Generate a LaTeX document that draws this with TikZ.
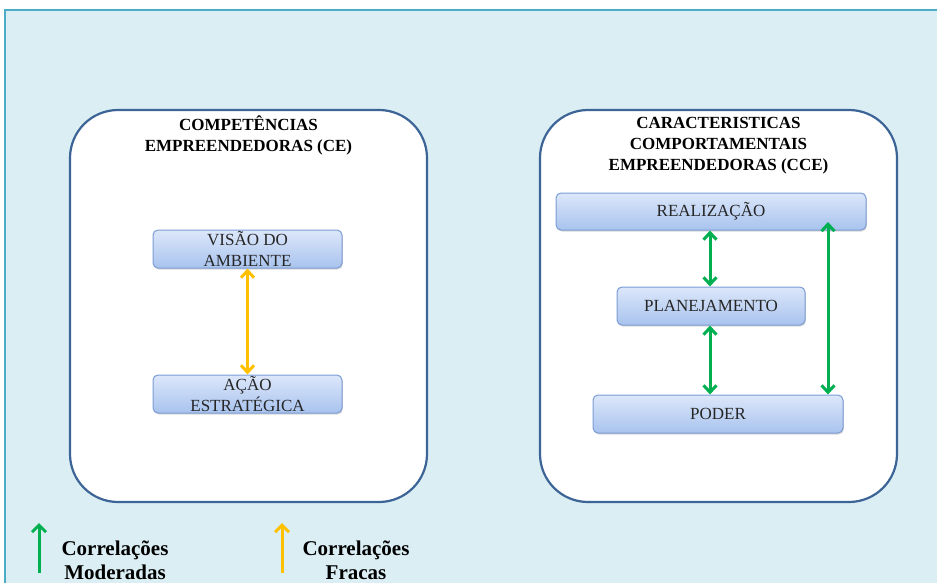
\documentclass[tikz,border=0pt]{standalone}
\usepackage{fontspec}
\setmainfont{Liberation Serif}
\usetikzlibrary{arrows.meta,shadows}
\definecolor{panelfill}{HTML}{DAEEF3}
\definecolor{panelline}{HTML}{4BACC6}
\definecolor{boxline}{HTML}{3D6496}
\definecolor{nodetop}{HTML}{DCE7FA}
\definecolor{nodebot}{HTML}{A8C3EE}
\definecolor{nodeline}{HTML}{7C9CD4}
\definecolor{corgreen}{HTML}{00B050}
\definecolor{corgold}{HTML}{FFC000}
\tikzset{
  group/.style={draw=boxline, line width=2.2pt, fill=white, rounded corners=48pt},
  item/.style={draw=nodeline, line width=1pt, rounded corners=5pt, top color=nodetop,
    bottom color=nodebot, align=center, inner sep=0pt,
    font=\fontsize{17}{20.5}\selectfont, text=black!85,
    drop shadow={shadow xshift=0.8pt, shadow yshift=-1.5pt, opacity=0.3}},
  grouptitle/.style={align=center, font=\bfseries\fontsize{17}{21}\selectfont, inner sep=0pt},
  link/.style={line width=3pt, {Straight Barb[length=7pt,width=13pt]}-{Straight Barb[length=7pt,width=13pt]}},
  legarrow/.style={line width=3pt, -{Straight Barb[length=7pt,width=14pt]}},
  legtext/.style={align=center, font=\bfseries\fontsize{21}{24}\selectfont, inner sep=0pt}
}
\begin{document}
\begin{tikzpicture}[x=1pt,y=-1pt]
\useasboundingbox (0,0) rectangle (937,583);
% background panel
\fill[panelfill] (5,10) rectangle (945,590);
\draw[panelline, line width=1.3pt] (945,10) -- (5,10) -- (5,590);

% group frames
\draw[group] (70,110) rectangle (427,502);
\draw[group] (540,110) rectangle (897,502);

\node[grouptitle] (t1) at (248.5,135.5) {COMPETÊNCIAS\\EMPREENDEDORAS (CE)};
\node[grouptitle] (t2) at (718.5,146) {CARACTERISTICAS\\COMPORTAMENTAIS\\EMPREENDEDORAS (CCE)};

% left group
\node[item, minimum width=189pt, minimum height=38pt] (vis) at (247.5,249) {VISÃO DO\\AMBIENTE};
\node[item, minimum width=189pt, minimum height=38pt] (acao) at (247.5,394) {AÇÃO\\ESTRATÉGICA};
\draw[link, corgold] (vis.south) -- (acao.north);

% right group
\node[item, minimum width=310pt, minimum height=37pt] (real) at (711,211.5) {REALIZAÇÃO};
\node[item, minimum width=188pt, minimum height=38pt] (plan) at (711,306) {PLANEJAMENTO};
\node[item, minimum width=250pt, minimum height=38pt] (pod) at (718,414) {PODER};
\draw[link, corgreen] (real.south -| 710,0) -- (plan.north -| 710,0);
\draw[link, corgreen] (plan.south -| 710,0) -- (pod.north -| 710,0);
\coordinate (rtop) at (828,222);
\draw[link, corgreen] (rtop) -- (pod.north -| rtop);

% legend
\coordinate (g0) at (39,573);
\coordinate (g1) at (39,523);
\draw[legarrow, corgreen] (g0) -- (g1);
\node[legtext] (lg) at (115,560) {Correlações\\Moderadas};
\coordinate (o0) at (282,573);
\coordinate (o1) at (282,523);
\draw[legarrow, corgold] (o0) -- (o1);
\node[legtext] (lo) at (356,560) {Correlações\\Fracas};
\end{tikzpicture}
\end{document}
